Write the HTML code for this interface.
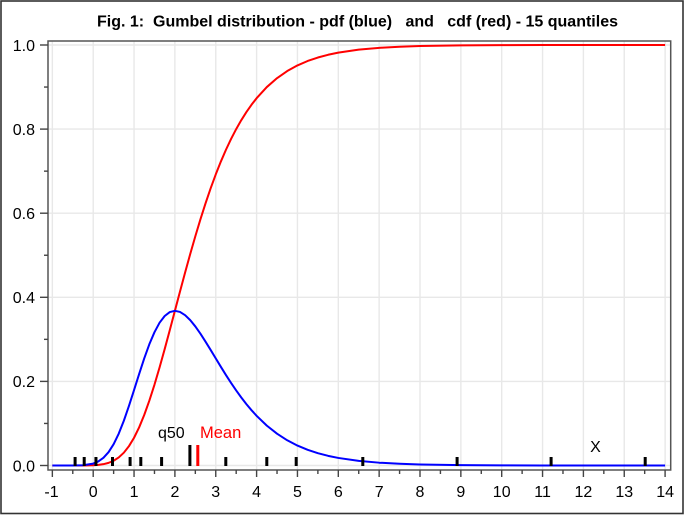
<!DOCTYPE html>
<html><head><meta charset="utf-8"><style>
html,body{margin:0;padding:0;background:#fff;}
svg{display:block;}
text{font-family:"Liberation Sans",Arial,sans-serif;}
</style></head><body>
<svg width="686" height="515" viewBox="0 0 686 515" xmlns="http://www.w3.org/2000/svg">
<rect x="0" y="0" width="686" height="515" fill="#fff"/>
<rect x="1" y="1" width="682" height="512.5" fill="none" stroke="#333" stroke-width="1.6"/>
<text x="357.5" y="26.7" text-anchor="middle" font-size="16" font-weight="bold" fill="#000" xml:space="preserve" textLength="521" lengthAdjust="spacing">Fig. 1:  Gumbel distribution - pdf (blue)   and   cdf (red) - 15 quantiles</text>
<g stroke="#e8e8e8" stroke-width="1.4">
<line x1="52.35" y1="41" x2="52.35" y2="470"/><line x1="93.2" y1="41" x2="93.2" y2="470"/><line x1="134.05" y1="41" x2="134.05" y2="470"/><line x1="174.9" y1="41" x2="174.9" y2="470"/><line x1="215.75" y1="41" x2="215.75" y2="470"/><line x1="256.6" y1="41" x2="256.6" y2="470"/><line x1="297.45" y1="41" x2="297.45" y2="470"/><line x1="338.3" y1="41" x2="338.3" y2="470"/><line x1="379.15" y1="41" x2="379.15" y2="470"/><line x1="420" y1="41" x2="420" y2="470"/><line x1="460.85" y1="41" x2="460.85" y2="470"/><line x1="501.7" y1="41" x2="501.7" y2="470"/><line x1="542.55" y1="41" x2="542.55" y2="470"/><line x1="583.4" y1="41" x2="583.4" y2="470"/><line x1="624.25" y1="41" x2="624.25" y2="470"/><line x1="665.1" y1="41" x2="665.1" y2="470"/>
<line x1="48" y1="465.5" x2="670.7" y2="465.5"/><line x1="48" y1="381.4" x2="670.7" y2="381.4"/><line x1="48" y1="297.3" x2="670.7" y2="297.3"/><line x1="48" y1="213.2" x2="670.7" y2="213.2"/><line x1="48" y1="129.1" x2="670.7" y2="129.1"/><line x1="48" y1="45" x2="670.7" y2="45"/>
</g>
<rect x="48" y="41" width="622.7" height="429" fill="none" stroke="#555" stroke-width="1.5"/>
<g stroke="#444" stroke-width="1.4">
<line x1="40" y1="465.5" x2="48" y2="465.5"/><line x1="40" y1="381.4" x2="48" y2="381.4"/><line x1="40" y1="297.3" x2="48" y2="297.3"/><line x1="40" y1="213.2" x2="48" y2="213.2"/><line x1="40" y1="129.1" x2="48" y2="129.1"/><line x1="40" y1="45" x2="48" y2="45"/>
<line x1="44" y1="423.45" x2="48" y2="423.45"/><line x1="44" y1="339.35" x2="48" y2="339.35"/><line x1="44" y1="255.25" x2="48" y2="255.25"/><line x1="44" y1="171.15" x2="48" y2="171.15"/><line x1="44" y1="87.05" x2="48" y2="87.05"/>
<line x1="52.35" y1="470" x2="52.35" y2="477"/><line x1="93.2" y1="470" x2="93.2" y2="477"/><line x1="134.05" y1="470" x2="134.05" y2="477"/><line x1="174.9" y1="470" x2="174.9" y2="477"/><line x1="215.75" y1="470" x2="215.75" y2="477"/><line x1="256.6" y1="470" x2="256.6" y2="477"/><line x1="297.45" y1="470" x2="297.45" y2="477"/><line x1="338.3" y1="470" x2="338.3" y2="477"/><line x1="379.15" y1="470" x2="379.15" y2="477"/><line x1="420" y1="470" x2="420" y2="477"/><line x1="460.85" y1="470" x2="460.85" y2="477"/><line x1="501.7" y1="470" x2="501.7" y2="477"/><line x1="542.55" y1="470" x2="542.55" y2="477"/><line x1="583.4" y1="470" x2="583.4" y2="477"/><line x1="624.25" y1="470" x2="624.25" y2="477"/><line x1="665.1" y1="470" x2="665.1" y2="477"/>
<line x1="72.78" y1="470" x2="72.78" y2="474"/><line x1="113.63" y1="470" x2="113.63" y2="474"/><line x1="154.48" y1="470" x2="154.48" y2="474"/><line x1="195.33" y1="470" x2="195.33" y2="474"/><line x1="236.18" y1="470" x2="236.18" y2="474"/><line x1="277.03" y1="470" x2="277.03" y2="474"/><line x1="317.88" y1="470" x2="317.88" y2="474"/><line x1="358.73" y1="470" x2="358.73" y2="474"/><line x1="399.58" y1="470" x2="399.58" y2="474"/><line x1="440.43" y1="470" x2="440.43" y2="474"/><line x1="481.28" y1="470" x2="481.28" y2="474"/><line x1="522.13" y1="470" x2="522.13" y2="474"/><line x1="562.98" y1="470" x2="562.98" y2="474"/><line x1="603.83" y1="470" x2="603.83" y2="474"/><line x1="644.68" y1="470" x2="644.68" y2="474"/>
</g>
<g font-size="16" fill="#000" text-anchor="end">
<text x="35" y="471.3">0.0</text><text x="35" y="387.2">0.2</text><text x="35" y="303.1">0.4</text><text x="35" y="219">0.6</text><text x="35" y="134.9">0.8</text><text x="35" y="50.8">1.0</text>
</g>
<g font-size="16" fill="#000" text-anchor="middle">
<text x="51.5" y="497">-1</text><text x="93.2" y="497">0</text><text x="134.05" y="497">1</text><text x="174.9" y="497">2</text><text x="215.75" y="497">3</text><text x="256.6" y="497">4</text><text x="297.45" y="497">5</text><text x="338.3" y="497">6</text><text x="379.15" y="497">7</text><text x="420" y="497">8</text><text x="460.85" y="497">9</text><text x="501.7" y="497">10</text><text x="542.55" y="497">11</text><text x="583.4" y="497">12</text><text x="624.25" y="497">13</text><text x="665.1" y="497">14</text>
</g>
<polyline fill="none" stroke="#ff0000" stroke-width="2" stroke-linejoin="round" points="52.35,465.5 72.78,465.5 82.99,465.47 93.2,465.24 98.31,464.88 103.41,464.17 108.52,462.88 113.63,460.74 118.73,457.45 123.84,452.68 128.94,446.18 134.05,437.75 139.16,427.31 144.26,414.87 149.37,400.56 154.48,384.64 159.58,367.35 164.69,349.05 169.79,330.08 174.9,310.81 180.01,291.51 185.11,272.51 190.22,254.02 195.33,236.23 200.43,219.29 205.54,203.3 210.64,188.34 215.75,174.43 220.86,161.55 225.96,149.75 231.07,138.94 236.18,129.1 241.28,120.16 246.39,112.07 251.49,104.78 256.6,98.23 266.81,87.06 277.03,78.14 287.24,71.04 297.45,65.42 307.66,60.99 317.88,57.51 328.09,54.78 338.3,52.63 358.73,49.65 379.15,47.83 399.58,46.71 420,46.04 460.85,45.38 501.7,45.14 542.55,45.05 583.4,45.02 665.1,45"/>
<polyline fill="none" stroke="#0000ff" stroke-width="2" stroke-linejoin="round" points="52.35,465.5 62.56,465.5 72.78,465.47 82.99,465.2 93.2,463.58 98.31,461.46 103.41,457.84 108.52,452.2 113.63,444.18 118.73,433.64 123.84,420.76 128.94,405.98 134.05,390.07 139.16,373.9 144.26,358.31 149.37,344.17 154.48,332.18 159.58,322.69 164.69,315.98 169.79,312.05 174.9,310.81 180.01,311.95 185.11,315.2 190.22,320.15 195.33,326.44 200.43,333.71 205.54,341.65 210.64,349.96 215.75,358.42 220.86,366.83 225.96,375.04 231.07,382.94 236.18,390.44 241.28,397.5 246.39,404.09 251.49,410.18 256.6,415.79 266.81,425.61 277.03,433.7 287.24,440.28 297.45,445.58 307.66,449.82 317.88,453.18 328.09,455.84 338.3,457.94 358.73,460.88 379.15,462.69 399.58,463.79 420,464.46 460.85,465.12 501.7,465.36 542.55,465.45 665.1,465.5"/>
<g fill="#000">
<rect x="73.6" y="457" width="3" height="9"/><rect x="82.7" y="457" width="3" height="9"/><rect x="94.45" y="457" width="3" height="9"/><rect x="111" y="457" width="3" height="9"/><rect x="128.6" y="457" width="3" height="9"/><rect x="139.3" y="457" width="3" height="9"/><rect x="160.1" y="457" width="3" height="9"/>
<rect x="188.4" y="445" width="3" height="21"/>
<rect x="224.3" y="457" width="3" height="9"/><rect x="265.3" y="457" width="3" height="9"/><rect x="294.7" y="457" width="3" height="9"/><rect x="361.3" y="457" width="3" height="9"/><rect x="455.6" y="457" width="3" height="9"/><rect x="549.6" y="457" width="3" height="9"/><rect x="643.7" y="457" width="3" height="9"/>
</g>
<rect x="196.3" y="445" width="3" height="21" fill="#ff0000"/>
<text x="158" y="438" font-size="16" fill="#000">q50</text>
<text x="200" y="438" font-size="16.5" fill="#ff0000">Mean</text>
<text x="595.5" y="452" font-size="16" fill="#000" text-anchor="middle">X</text>
</svg>
</body></html>
